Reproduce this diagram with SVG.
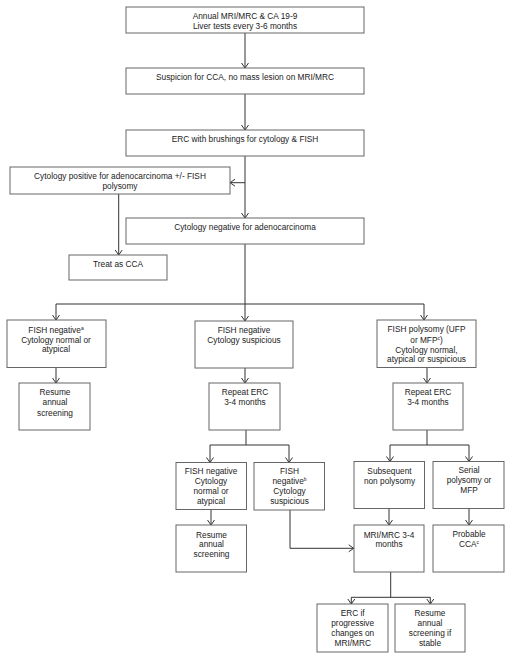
<svg xmlns="http://www.w3.org/2000/svg" width="512" height="660" viewBox="0 0 512 660">
<style>
.b{fill:#fff;stroke:#666;stroke-width:1}
.t{font-family:"Liberation Sans",Arial,sans-serif;font-size:8.3px;fill:#222;text-anchor:middle}
.c{fill:none;stroke:#333;stroke-width:1}
.s{font-size:5px}
</style>
<defs>
<marker id="a" markerUnits="userSpaceOnUse" markerWidth="8" markerHeight="9" viewBox="0 0 8 9" refX="6" refY="4.5" orient="auto">
<path d="M1,1 L6,4.5 L1,8" fill="none" stroke="#333" stroke-width="1"/>
</marker>
</defs>
<rect width="512" height="660" fill="#fff"/>
<g id="connectors" class="c">
<path d="M245,33 V68" marker-end="url(#a)"/>
<path d="M245,94 V130" marker-end="url(#a)"/>
<path d="M245,156 V218" marker-end="url(#a)"/>
<path d="M245,182.7 H230" marker-end="url(#a)"/>
<path d="M118.7,194 V255" marker-end="url(#a)"/>
<path d="M245,244 V304 M56,304 H424"/>
<path d="M56,304 V320" marker-end="url(#a)"/>
<path d="M245,304 V321" marker-end="url(#a)"/>
<path d="M424,304 V320" marker-end="url(#a)"/>
<path d="M56,367.5 V383" marker-end="url(#a)"/>
<path d="M245,368 V383" marker-end="url(#a)"/>
<path d="M427,367.5 V383" marker-end="url(#a)"/>
<path d="M246,430 V445 M210,445 H289"/>
<path d="M210,445 V462.5" marker-end="url(#a)"/>
<path d="M289,445 V462.5" marker-end="url(#a)"/>
<path d="M427,430 V445 M390,445 H469"/>
<path d="M390,445 V461.5" marker-end="url(#a)"/>
<path d="M469,445 V461.5" marker-end="url(#a)"/>
<path d="M211,509.5 V525" marker-end="url(#a)"/>
<path d="M290,510 V548.3 H353.7" marker-end="url(#a)"/>
<path d="M389,508.5 V525" marker-end="url(#a)"/>
<path d="M469,508.5 V525" marker-end="url(#a)"/>
<path d="M390.7,572 V597.3 M351.3,597.3 H430.3"/>
<path d="M351.3,597.3 V604" marker-end="url(#a)"/>
<path d="M430.3,597.3 V604" marker-end="url(#a)"/>
</g>
<g id="n1"><rect class="b" x="126" y="7" width="238" height="26"/><text class="t" x="245" y="19">Annual MRI/MRC &amp; CA 19-9</text><text class="t" x="245" y="29">Liver tests every 3-6 months</text></g>
<g id="n2"><rect class="b" x="126" y="68" width="238" height="26"/><text class="t" x="245" y="80">Suspicion for CCA, no mass lesion on MRI/MRC</text></g>
<g id="n3"><rect class="b" x="126" y="130" width="238" height="26"/><text class="t" x="245" y="142">ERC with brushings for cytology &amp; FISH</text></g>
<g id="n4"><rect class="b" x="10" y="167" width="220" height="27"/><text class="t" x="120" y="178.7">Cytology positive for adenocarcinoma +/- FISH</text><text class="t" x="120" y="188.7">polysomy</text></g>
<g id="n5"><rect class="b" x="126" y="218" width="238" height="26"/><text class="t" x="245" y="229.7">Cytology negative for adenocarcinoma</text></g>
<g id="n6"><rect class="b" x="69" y="255" width="98" height="25"/><text class="t" x="118" y="266.7">Treat as CCA</text></g>
<g id="n7"><rect class="b" x="7" y="320" width="99" height="47.5"/><text class="t" x="56" y="333">FISH negative<tspan class="s" dy="-3">a</tspan></text><text class="t" x="56" y="343">Cytology normal or</text><text class="t" x="56" y="352.3">atypical</text></g>
<g id="n8"><rect class="b" x="195" y="321" width="98" height="47"/><text class="t" x="244" y="333">FISH negative</text><text class="t" x="244" y="343">Cytology suspicious</text></g>
<g id="n9"><rect class="b" x="377" y="320" width="99" height="47.5"/><text class="t" x="426.5" y="332">FISH polysomy (UFP</text><text class="t" x="426.5" y="343">or MFP<tspan class="s" dy="-3">c</tspan><tspan dy="3">)</tspan></text><text class="t" x="426.5" y="353">Cytology normal,</text><text class="t" x="426.5" y="362.3">atypical or suspicious</text></g>
<g id="n10"><rect class="b" x="19" y="383" width="71" height="47"/><text class="t" x="55" y="394.7">Resume</text><text class="t" x="55" y="405.3">annual</text><text class="t" x="55" y="415.7">screening</text></g>
<g id="n11"><rect class="b" x="209" y="383" width="71" height="47"/><text class="t" x="245" y="394.7">Repeat ERC</text><text class="t" x="245" y="405">3-4 months</text></g>
<g id="n12"><rect class="b" x="393" y="383" width="70" height="47"/><text class="t" x="428" y="394.7">Repeat ERC</text><text class="t" x="428" y="405">3-4 months</text></g>
<g id="n13"><rect class="b" x="176" y="462.5" width="70.5" height="47"/><text class="t" x="211" y="474">FISH negative</text><text class="t" x="211" y="484">Cytology</text><text class="t" x="211" y="493.7">normal or</text><text class="t" x="211" y="503.7">atypical</text></g>
<g id="n14"><rect class="b" x="254" y="462.5" width="70.5" height="47.5"/><text class="t" x="289.5" y="474">FISH</text><text class="t" x="289.5" y="484">negative<tspan class="s" dy="-3">b</tspan></text><text class="t" x="289.5" y="493.7">Cytology</text><text class="t" x="289.5" y="504">suspicious</text></g>
<g id="n15"><rect class="b" x="354" y="461.5" width="70.5" height="47"/><text class="t" x="389.5" y="473.7">Subsequent</text><text class="t" x="389.5" y="483.7">non polysomy</text></g>
<g id="n16"><rect class="b" x="433" y="461.5" width="71" height="47"/><text class="t" x="469" y="473.3">Serial</text><text class="t" x="469" y="483.3">polysomy or</text><text class="t" x="469" y="493">MFP</text></g>
<g id="n17"><rect class="b" x="176" y="525" width="70.5" height="47"/><text class="t" x="211.5" y="537.7">Resume</text><text class="t" x="211.5" y="547.3">annual</text><text class="t" x="211.5" y="557.3">screening</text></g>
<g id="n18"><rect class="b" x="354" y="525" width="70" height="47"/><text class="t" x="389" y="537.7">MRI/MRC 3-4</text><text class="t" x="389" y="547.3">months</text></g>
<g id="n19"><rect class="b" x="433" y="525" width="71" height="47"/><text class="t" x="469" y="537">Probable</text><text class="t" x="469" y="547">CCA<tspan class="s" dy="-3">c</tspan></text></g>
<g id="n20"><rect class="b" x="317" y="604" width="71" height="48"/><text class="t" x="352.7" y="615.7">ERC if</text><text class="t" x="352.7" y="626.3">progressive</text><text class="t" x="352.7" y="636.3">changes on</text><text class="t" x="352.7" y="646.3">MRI/MRC</text></g>
<g id="n21"><rect class="b" x="395" y="604" width="70" height="48"/><text class="t" x="430" y="615.7">Resume</text><text class="t" x="430" y="626">annual</text><text class="t" x="430" y="636">screening if</text><text class="t" x="430" y="646">stable</text></g>
</svg>
